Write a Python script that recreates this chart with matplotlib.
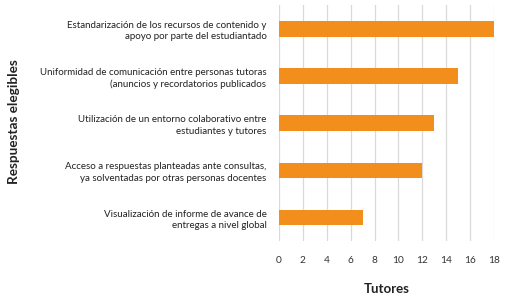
import matplotlib
matplotlib.use("Agg")
import matplotlib.pyplot as plt

# data
respuestas = [
    "Estandarización de los recursos de contenido y\napoyo por parte del estudiantado",
    "Uniformidad de comunicación entre personas tutoras\n(anuncios y recordatorios publicados",
    "Utilización de un entorno colaborativo entre\nestudiantes y tutores",
    "Acceso a respuestas planteadas ante consultas,\nya solventadas por otras personas docentes",
    "Visualización de informe de avance de\nentregas a nivel global",
]
tutores = [18, 15, 13, 12, 7]
x_ticks = list(range(0, 20, 2))

plt.rcParams['font.family'] = ['Lato', 'DejaVu Sans']

fig = plt.figure(figsize=(5.10, 3.01), dpi=100)
ax = fig.add_axes([0.547, 0.199, 0.4215, 0.784])

pos = list(range(len(respuestas)))[::-1]
ax.barh(pos, tutores, height=0.33, color='#F28E1C', zorder=3)

ax.set_xlim(0, 18)
ax.set_ylim(-0.5, 4.5)
ax.set_xticks(x_ticks)
ax.set_yticks(pos)
ax.set_yticklabels(respuestas, fontsize=7.0, color='#222222', linespacing=1.35)
ax.tick_params(axis='x', labelsize=7.3, colors='#333333', length=0, pad=11)
ax.tick_params(axis='y', length=0, pad=9)

ax.grid(axis='x', color='#D9D9D9', linewidth=0.9, zorder=0)
for s in ax.spines.values():
    s.set_visible(False)

ax.set_xlabel("Tutores", fontsize=9.5, fontweight='bold', color='#222222', labelpad=13)
fig.text(0.028, 0.595, "Respuestas elegibles", rotation=90, fontsize=9.8,
         fontweight='bold', color='#222222', ha='center', va='center')

fig.savefig("out.png", dpi=100)
